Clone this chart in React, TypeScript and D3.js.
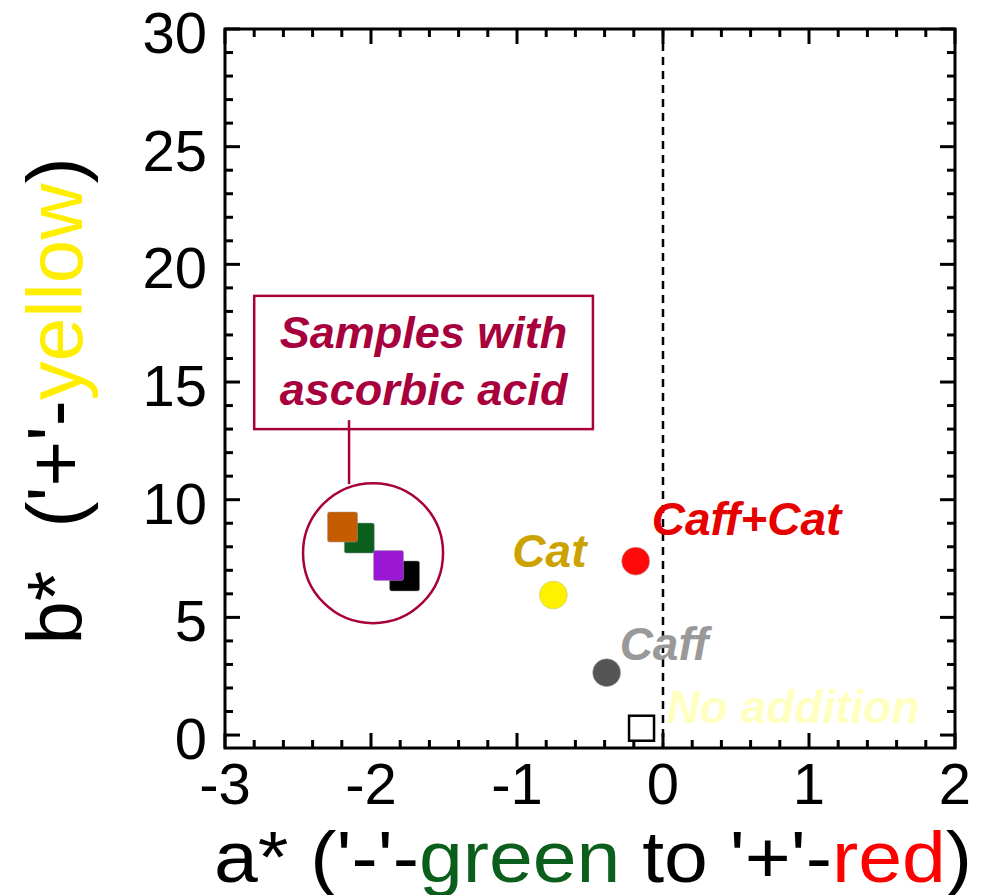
import React, { useEffect, useRef } from "react";
import * as d3 from "d3";

// axis ticks
const xTicks = [-3, -2, -1, 0, 1, 2];
const yTicks = [0, 5, 10, 15, 20, 25, 30];

// samples with ascorbic acid (drawn back to front)
const ascorbicA = [-2.08, -2.195, -1.77, -1.88];
const ascorbicB = [8.37, 8.84, 6.76, 7.2];

// other samples
const sampleNames = ["Cat", "Caff+Cat", "Caff"];
const sampleA = [-0.751, -0.187, -0.386];
const sampleB = [5.95, 7.39, 2.65];

const blankName = "No addition";
const blankA = [-0.147];
const blankB = [0.29];

const boxLines = ["Samples with", "ascorbic acid"];

const W = 989, H = 895;
const squareFill = ["#0B5E1C", "#C65C00", "#000000", "#9A18D4"];
const dotFill = ["#FFF200", "#FF0A0A", "#555555"];
const labelFill = ["#CCA200", "#E60000", "#999999"];
const labelOff = [[-41, -28], [16, -26], [13, -13]];
const crimson = "#A8003C";

export default function App() {
  const ref = useRef<SVGSVGElement>(null);

  useEffect(() => {
    const svg = d3.select(ref.current);
    svg.selectAll("*").remove();

    const x = d3.scaleLinear().domain([-3, 2]).range([225, 955]);
    const y = d3.scaleLinear().domain([-0.55, 30]).range([748, 29]);
    const font = "'Liberation Sans', Arial, sans-serif";

    // zero line
    svg.append("line")
      .attr("x1", x(0)).attr("x2", x(0))
      .attr("y1", y(30)).attr("y2", y(-0.55))
      .attr("stroke", "#000").attr("stroke-width", 2.5)
      .attr("stroke-dasharray", "8,6");

    // ticks on every side, pointing in
    const xMinor = d3.range(-3, 2.001, 0.2).filter(d => Math.abs(d - Math.round(d)) > 0.01);
    const yMinor = d3.range(0, 30.001, 1).filter(d => d % 5 !== 0);
    const g = svg.append("g").attr("stroke", "#000").attr("stroke-width", 3);
    const xt = [...xTicks.map(d => [d, 15]), ...xMinor.map(d => [d, 8])];
    const yt = [...yTicks.map(d => [d, 15]), ...yMinor.map(d => [d, 8])];
    xt.forEach(([d, len]) => {
      g.append("line").attr("x1", x(d)).attr("x2", x(d)).attr("y1", y.range()[0]).attr("y2", y.range()[0] - len);
      g.append("line").attr("x1", x(d)).attr("x2", x(d)).attr("y1", y.range()[1]).attr("y2", y.range()[1] + len);
    });
    yt.forEach(([d, len]) => {
      g.append("line").attr("y1", y(d)).attr("y2", y(d)).attr("x1", x.range()[0]).attr("x2", x.range()[0] + len);
      g.append("line").attr("y1", y(d)).attr("y2", y(d)).attr("x1", x.range()[1]).attr("x2", x.range()[1] - len);
    });

    svg.append("rect")
      .attr("x", 225).attr("y", 29).attr("width", 730).attr("height", 719)
      .attr("fill", "none").attr("stroke", "#000").attr("stroke-width", 3);

    // tick labels
    svg.append("g").selectAll("text").data(xTicks).enter().append("text")
      .attr("x", d => x(d)).attr("y", 804)
      .attr("text-anchor", "middle")
      .attr("font-family", font).attr("font-size", 58)
      .text(d => d);
    svg.append("g").selectAll("text").data(yTicks).enter().append("text")
      .attr("x", 207).attr("y", d => y(d) + 24)
      .attr("text-anchor", "end")
      .attr("font-family", font).attr("font-size", 58)
      .text(d => d);

    // axis titles
    const xt1 = svg.append("text")
      .attr("x", 214).attr("y", 882)
      .attr("font-family", font).attr("font-size", 72)
      .attr("textLength", 758).attr("lengthAdjust", "spacingAndGlyphs");
    xt1.append("tspan").text("a* ('-'-");
    xt1.append("tspan").attr("fill", "#0B5E1C").text("green");
    xt1.append("tspan").text(" to '+'-");
    xt1.append("tspan").attr("fill", "#FF0000").text("red");
    xt1.append("tspan").text(")");

    const yt1 = svg.append("text")
      .attr("transform", "translate(82,401) rotate(-90)")
      .attr("text-anchor", "middle")
      .style("white-space", "pre")
      .attr("font-family", font).attr("font-size", 78)
      .attr("textLength", 487).attr("lengthAdjust", "spacingAndGlyphs");
    yt1.append("tspan").text("b*  ('+'-");
    yt1.append("tspan").attr("fill", "#FFEE00").text("yellow");
    yt1.append("tspan").text(")");

    // annotation for ascorbic acid group
    const cx = x(-1.986), cy = y(7.73);
    svg.append("circle")
      .attr("cx", cx).attr("cy", cy).attr("r", 70)
      .attr("fill", "none").attr("stroke", crimson).attr("stroke-width", 2.5);
    svg.append("line")
      .attr("x1", cx - 24).attr("x2", cx - 24)
      .attr("y1", cy - 133).attr("y2", cy - 69)
      .attr("stroke", crimson).attr("stroke-width", 2.5);
    svg.append("rect")
      .attr("x", x(-2.8)).attr("y", y(18.66))
      .attr("width", x(-0.48) - x(-2.8)).attr("height", y(13.0) - y(18.66))
      .attr("fill", "none").attr("stroke", crimson).attr("stroke-width", 2.5);
    svg.append("g").selectAll("text").data(boxLines).enter().append("text")
      .attr("x", (x(-2.8) + x(-0.48)) / 2).attr("y", (d, i) => 348 + i * 57)
      .attr("text-anchor", "middle")
      .attr("font-family", font).attr("font-size", 45)
      .attr("font-weight", "bold").attr("font-style", "italic")
      .attr("fill", crimson)
      .text(d => d);

    svg.append("g").selectAll("rect").data(ascorbicA).enter().append("rect")
      .attr("x", (d) => x(d) - 15).attr("y", (d, i) => y(ascorbicB[i]) - 15)
      .attr("width", 30).attr("height", 30).attr("rx", 2)
      .attr("fill", (d, i) => squareFill[i])
      .attr("stroke", "#999").attr("stroke-width", 0.5);

    // other samples
    svg.append("g").selectAll("circle").data(sampleA).enter().append("circle")
      .attr("cx", d => x(d)).attr("cy", (d, i) => y(sampleB[i])).attr("r", 14)
      .attr("fill", (d, i) => dotFill[i])
      .attr("stroke", "#bbb").attr("stroke-width", 0.5);
    svg.append("g").selectAll("text").data(sampleNames).enter().append("text")
      .attr("x", (d, i) => x(sampleA[i]) + labelOff[i][0])
      .attr("y", (d, i) => y(sampleB[i]) + labelOff[i][1])
      .attr("font-family", font).attr("font-size", 46)
      .attr("font-weight", "bold").attr("font-style", "italic")
      .attr("fill", (d, i) => labelFill[i])
      .text(d => d);

    svg.append("rect")
      .attr("x", x(blankA[0]) - 12.5).attr("y", y(blankB[0]) - 12.5)
      .attr("width", 25).attr("height", 25)
      .attr("fill", "#fff").attr("stroke", "#000").attr("stroke-width", 2.5);
    svg.append("text")
      .attr("x", x(blankA[0]) + 25).attr("y", y(blankB[0]) - 5)
      .attr("font-family", font).attr("font-size", 46)
      .attr("font-weight", "bold").attr("font-style", "italic")
      .attr("fill", "#FFFFC0")
      .text(blankName);
  }, []);

  return (
    <div style={{ position: "absolute", left: 0, top: 0 }}>
      <svg ref={ref} width={W} height={H} style={{ display: "block", background: "#fff" }} />
    </div>
  );
}
